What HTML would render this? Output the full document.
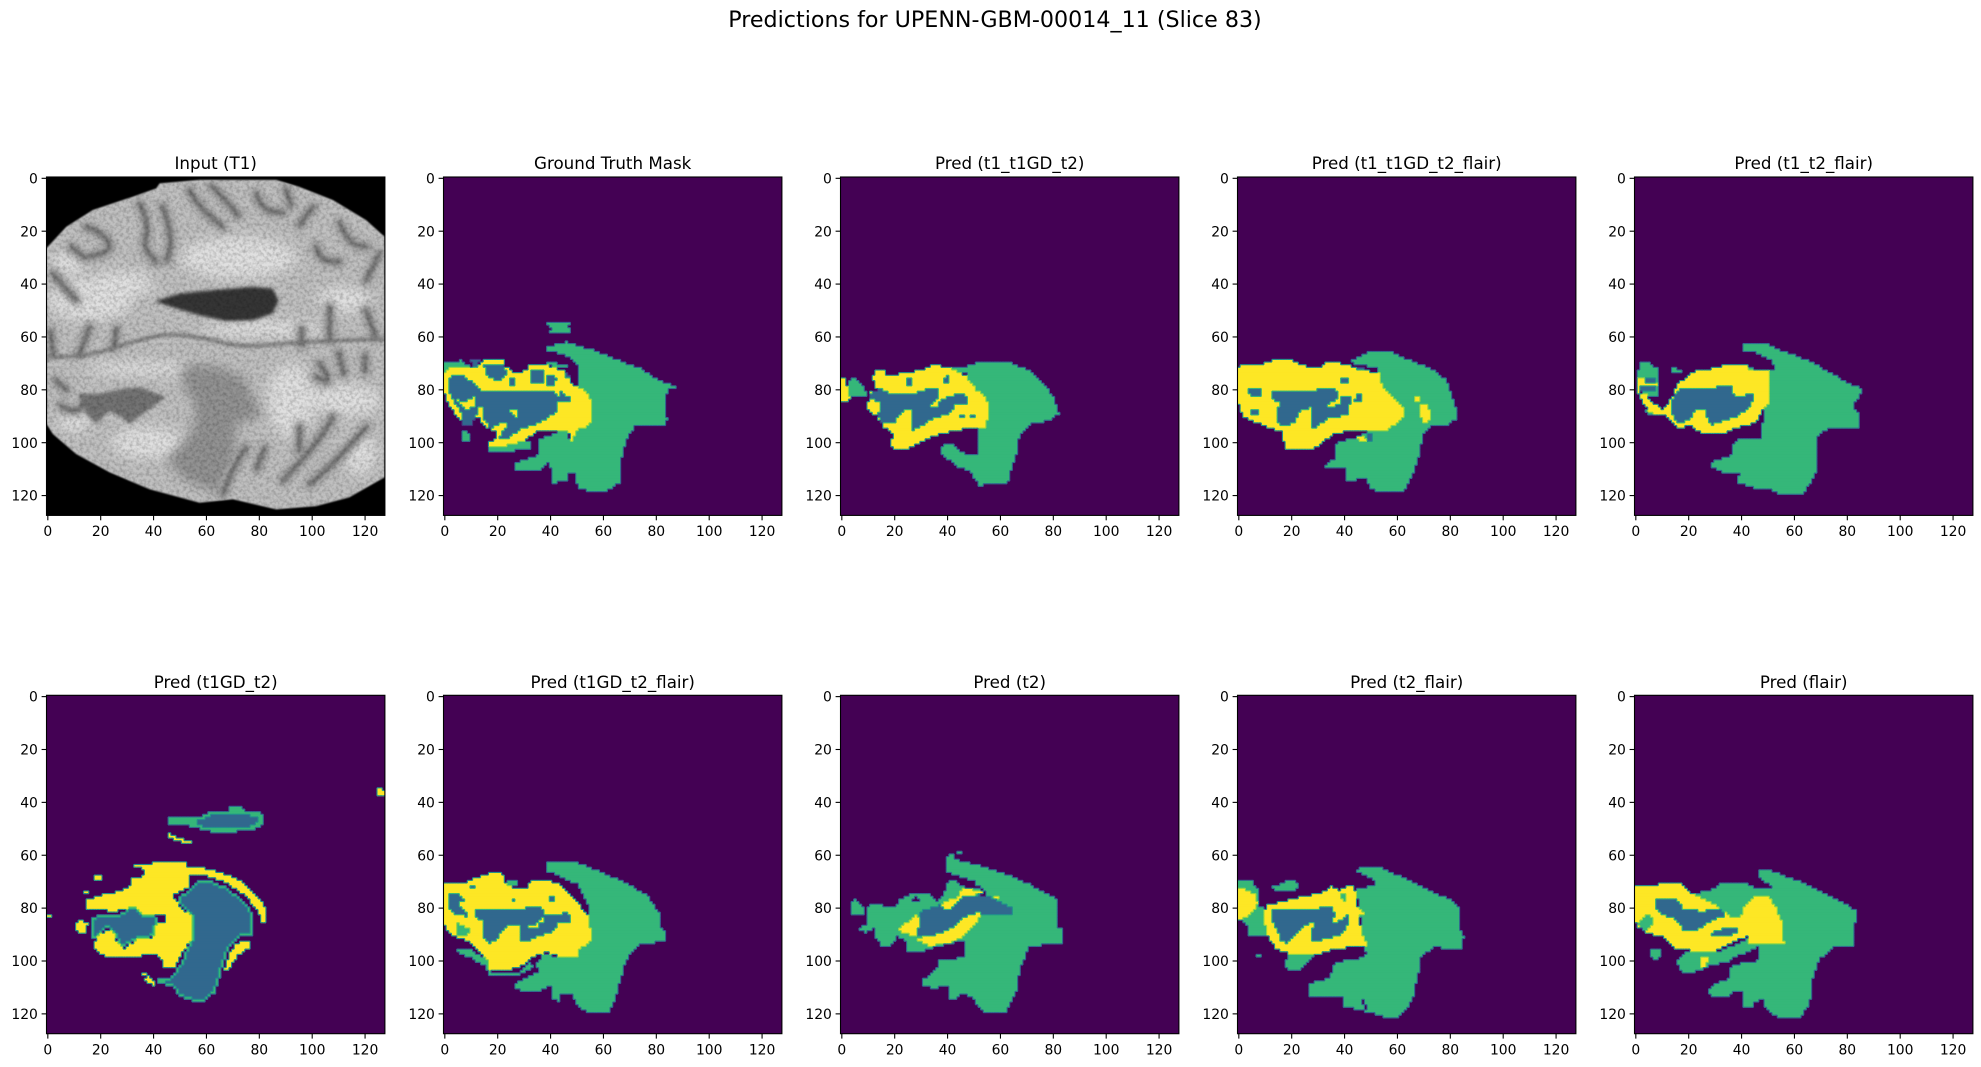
<!DOCTYPE html>
<html lang="en">
<head>
<meta charset="utf-8">
<title>Predictions for UPENN-GBM-00014_11 (Slice 83)</title>
<style>
html,body{margin:0;padding:0;background:#fff;width:1981px;height:1067px;overflow:hidden}
svg{display:block}
text{font-family:"DejaVu Sans","Liberation Sans",sans-serif;fill:#000}
.tick{font-size:13.9px}
.ttl{font-size:16.7px;text-anchor:middle}
</style>
</head>
<body>
<svg id="fig" xmlns="http://www.w3.org/2000/svg" width="1981" height="1067" viewBox="0 0 1981 1067">
<defs>
<filter id="blurS" x="-10%" y="-10%" width="120%" height="120%"><feGaussianBlur stdDeviation="1.7"/></filter>
<filter id="blurM" x="-10%" y="-10%" width="120%" height="120%"><feGaussianBlur stdDeviation="3"/></filter>
<filter id="blurT" x="-20%" y="-20%" width="140%" height="140%"><feGaussianBlur stdDeviation="5.5"/></filter>
<filter id="blurL" x="-30%" y="-30%" width="160%" height="160%"><feGaussianBlur stdDeviation="6"/></filter>
<filter id="blurE" x="-5%" y="-5%" width="110%" height="110%"><feGaussianBlur stdDeviation="0.9"/></filter>
<filter id="grain" x="0" y="0" width="100%" height="100%"><feTurbulence type="fractalNoise" baseFrequency="0.3" numOctaves="2" seed="7"/><feColorMatrix type="matrix" values="0 0 0 0 0  0 0 0 0 0  0 0 0 0 0  0.45 0 0 0 -0.17"/></filter>
</defs>
<rect width="1981" height="1067" fill="#fff"/>
<text x="995" y="27" font-size="22.2" text-anchor="middle">Predictions for UPENN-GBM-00014_11 (Slice 83)</text>
<text class="ttl" x="215.7" y="169">Input (T1)</text>
<text class="ttl" x="612.7" y="169">Ground Truth Mask</text>
<text class="ttl" x="1009.7" y="169">Pred (t1_t1GD_t2)</text>
<text class="ttl" x="1406.7" y="169">Pred (t1_t1GD_t2_flair)</text>
<text class="ttl" x="1803.7" y="169">Pred (t1_t2_flair)</text>
<text class="ttl" x="215.7" y="688">Pred (t1GD_t2)</text>
<text class="ttl" x="612.7" y="688">Pred (t1GD_t2_flair)</text>
<text class="ttl" x="1009.7" y="688">Pred (t2)</text>
<text class="ttl" x="1406.7" y="688">Pred (t2_flair)</text>
<text class="ttl" x="1803.7" y="688">Pred (flair)</text>
</svg>
<script>
// ---- axis data ----
const tickValues = [0, 20, 40, 60, 80, 100, 120];
const voxelCount = 128;

// ---- brain image (voxel coordinates) ----
const brainOutline = [-0.6,26.5,7,18.3,17,12,32,7,41,3.8,42.3,1.9,57.4,0.6,86.4,0.6,95,3.2,107.8,8.2,120.4,15.8,126.7,21.5,127.5,22,127.5,113,114,120.7,101.5,124,86.4,125.2,70,121.4,57.4,122.7,38.5,117.6,23.3,111.2,10.7,104.3,1.9,96.7,-0.5,92.9];
const brainLightBlobs = [[16,46,16,8],[28,40,12,5],[8,32,7,4],[72,30,22,8],[82,57,24,3],[112,46,10,5],[113,84,13,6],[92,84,9,14],[36,72,22,2.5],[38,100,14,6],[10,92,6,4],[118,104,6,8]];
const brainCortex = [
[43.5,10.7,47.3,22,45,31],[34.7,9.5,38.4,17,36,26,41,31.6],[14.5,18.3,21,20.8,24.6,27,15.8,29.7],[9,26,14,30],
[53.6,4.4,56,9.5,66,18.3],[62,3,68,9,72,14],[78.8,5.7,81,12,88.9,13],[90,4,92,10],[100.3,10.7,95.2,17.7],[110.4,17,114,24.7,120.4,25.9],
[101.5,25.9,102.8,31,110.4,31.6],[125.5,28.4,120.4,38.6],[1.9,36,7,42,10.7,46],
[12,66.3,15.8,56.3],[1,58,2,66],[25,64,26,57],[106.6,48.7,106.6,61.3],[120.4,50,124,60],[96,57,96,63],
[102.8,70,107.8,77.7,101.5,75.2],[110,66,112,74],[120,67,120,73],[95.2,94,95.2,103],
[107.8,90.4,102.8,99.2,88.9,114.4],[120.4,94.2,108,108,99,115.7],[75,101.8,70,109.4,66.2,119.5],[82,102,79,110],
[3,76.5,7,80],[5,86,10,89,14,85]
];
const brainMidline = [-0.5,67.6,13.3,67.6,25.9,63.8,38.4,60,47.3,58.8,60,60.6,72.5,63.8,89,62.5,107.8,61.3,127.5,60.7];
const brainTumorCore = [51,70,63.7,71,73.8,75,81.3,90,71,93,71,106,64.9,119.5,52.3,114.4,44.8,106.9,54.9,95.5,56.1,86.6,51,77.8];
const brainLesion = [11.3,81.5,19.5,81.5,29,79.5,35,79,44.8,82.8,41,85.5,30.9,92.9,27.8,90.4,23.3,88,18.3,92.9,14.5,89.1];
const brainVentricle = [40.4,46.5,49.8,43.6,62.4,42.3,77.5,41,85,41.7,87.3,46.2,85,51.2,77.5,53.7,67.5,54,57.4,51.8,48.6,49.2];

// ---- ground truth mask polygons (voxel coordinates) ----
const gtGreen = [
[39,63.7,46,62,56,65,66,69,74,72,81,76.5,85,78,87.6,79,84.5,80,83,85,84,91,83,94,72,93.5,68.7,99,67,105.5,66,115,60,119,56,119,50.5,117,49,111.5,47,111.5,46,114.3,40.5,115.5,40.5,111,39,107.5,36,111,32,110.5,27,110,27,107.5,35,105,35.7,98.5,40.4,97.3,43,95.4,46,96,46.7,99,51,93,51,71,46,67,39,65],
[39,55,47,55,46.4,56.3,49,57.6,44.8,58.8,41.6,58,39,59,41,57],
[-0.4,70,6,69,9.5,71,2.5,72,-0.4,74],
[6.3,95.4,8.2,95.4,10.3,98.6,8.8,100,7,100],
[15.8,100,17,103,24.6,103.3,32,102,32.8,99,26,100,22,101],
[38.5,69.2,46,70.8,46,72,38.5,70.5]
];
const gtYellow = [[0,74,2,71.5,9.5,71.7,12,72,15,69,22,68.6,22.7,70.8,26.5,74,31,72.7,32,70.5,38.5,70.5,44.8,72.7,49,78.4,53,80.3,55.9,84.7,55.9,90.4,54.2,93.5,49.8,95.4,48,99.8,46.7,96,41,96,34.7,96,31,98.6,26.5,100.5,17,102,16.4,99.8,20,98.6,20,95.4,17,94.8,12.6,89.8,7,92.3,3,87.9,0.6,84,-0.4,79]];
const gtBlue = [
[1.3,75.3,6.3,74.3,9.5,76.5,13.9,80.3,22,81,31,81,39.7,80,43.5,82.8,42.2,88.5,34.7,93,28.4,94.8,24,98.6,20.8,99,20,93,17,94.8,13.2,87.9,9.5,94.2,7,93,7,89.8,3.2,84,1.3,80.3],
[15,71,22.7,71,23.3,74.6,20.8,76.5,16.4,75.3],
[24.6,75.5,27,75.3,26.5,79,24,79],
[32.8,72.7,37,72.7,37,77.8,32,77.8],
[38.5,74,42.2,75.3,41.6,78.4,39,78],
[44,81,47.5,82.8,47.5,84.7,43.5,84.7],
[9.5,68.3,13.9,68.3,11.3,72],
[44.8,72,48,75.5,46,75]
];
const gtYellowTop = [
[4.4,83.5,7.5,84.7,11.3,82.8,12,85.3,8.8,87.9,6.9,86],
[12.6,86.6,14.5,86,14.5,90.4,17,94.8,15,93.5,12.6,90.4],
[23.3,88.5,27,87.2,27,91,26,89],
[19,93.5,22.7,92.3,24,94.2,21.4,95.4,21.4,98,20.2,98,19,95.4]
];

// ---- Pred (t1_t1GD_t2) ----
const p3Green = [
[48,70.5,54,69.2,62.8,69.2,72.3,73.4,77.3,78.4,80.4,83.5,82,89,78.6,91.8,72.3,92.3,67.2,97.3,66,104.3,64.7,108,62.8,115,52,116.2,48.3,111,44,109,37,104.3,38.2,101,41.4,100,46.4,104.3,51.4,104.3,52,95.4,48,80,48,72],
[2.3,77,4.8,75.3,9.2,80.3,9.2,83,2.3,83],
[39.5,71.7,48,71.7,48,74,42,72.5]
];
const p3Yellow = [
[0,75.5,1.4,75.5,3,83,1.6,84.7,0,84],
[11.7,75.5,13,72.5,16.2,72.5,17.4,75,23.7,73.4,30,72.7,34.4,70.5,40.7,71.7,47,75,50.8,80,54.6,82.8,55.9,89.8,54,94.2,47,94.8,40.7,96,34.4,97.6,28,100.9,24.3,102.7,20,102.5,18.3,100,19.5,96.8,16.1,94.2,13.6,90.4,9.2,86.6,10.5,83.5,11,81,14,81,12.3,78.4]
];
const p3Blue = [
[11,81.5,14.2,79.4,18.7,81.3,28,81.3,32.5,79.7,36.7,79.7,37,82.8,33.2,86,35.7,86.6,38.2,83.5,43.9,81.5,47,82.2,47,85,43.3,85.3,40.7,89,34.4,91,30.6,93.5,26.2,95.4,26.9,87.6,24.3,87.2,21.8,89.8,19.3,92.9,15.5,92.9,13.6,89.8,14.9,85.3,11,83.5],
[25,76,26.6,76,26.6,78.4,25,78.4],
[39.5,74.2,41,76.3,39.5,78.4,38.2,76.5],
[45,89.4,46,89.4,46,90.4,45,90.4],
[49,89.4,50,89.4,50,90.4,49,90.4]
];

// ---- Pred (t1_t1GD_t2_flair) ----
const p4Green = [[41.2,69.6,46.9,67,50,65.2,57,65.2,64.6,68.8,72.1,71.7,78.4,76,80.3,81.6,82,86.6,82,91,79.7,93.2,73.4,93.2,69.6,96.7,68.4,104.3,65.8,112,62,119,54.5,119,49.4,117,48.2,113.3,45,113.3,44.6,115,40.6,115,40,109.3,35,110,32.4,108.7,36.2,106.2,36.2,101,39.3,99.2,44.4,98.6,49.4,95.4,53,84,53,72]];
const p4Yellow = [
[-0.7,72.7,0.3,70.5,9.7,70.5,10.3,69.2,18.5,68.3,24,70.5,29.2,72,34.3,69.2,41.2,70.5,47,72.7,54,73.4,53.2,77,58.3,82.8,63,87.6,62.7,90.4,58.3,93.5,54.5,96,43,95.4,35.6,96.7,29.9,101.7,24.2,103,17.3,102,16.6,96,9,93.3,1.5,90.4,-0.4,84.7,-0.7,84],
[68,85.3,71.4,85.3,72.8,89.7,71.4,92.3,69.4,92],
[67,83,68.4,83,68.4,84.4,67,84.4],
[44,97.7,47.5,97,49,100.2,45.7,99]
];
const p4Blue = [
[12.2,80.3,14,81,23,81,31.8,79.7,36.2,79.4,38,82.8,42.5,82.2,41.2,89.8,34.3,90.4,28.6,94.8,27,94.8,27.4,86.6,22.3,88.5,21.7,91.6,19.2,93.3,15.1,93.3,14,88.5,15.4,85.3,12.2,82.8],
[3,79.3,7.8,79.3,9,82.2,4.7,82.2],
[5,88,7.2,88,7.2,89.4,5,89.4],
[39,75.3,41.2,75.3,41.2,77.2,39,77.2],
[44.4,81.6,46.3,81.6,47.2,85,43.8,85],
[44.1,71.2,47.2,71.2,47.2,72.5,44.1,72.5],
[48.2,97,50,97,50,99.2,48.2,99.2]
];
const p4YellowTop = [[32.4,86.6,38,83,39,84.3,35.6,86.8]];

// ---- Pred (t1_t2_flair) ----
const p5Green = [
[40,63.3,42.4,62.4,48.7,62.4,56.9,65.8,65.7,69.2,75.8,74.6,80.8,77.8,85.9,79.7,84.6,82.8,82,86,84,89,84,94.2,73.2,94.2,68.9,97.3,68,111,65.7,115.6,63.8,118.8,61.9,120,55,120,51.8,118,46.8,117.8,38.6,115,39.2,111.2,34.2,111.8,30.4,110,28.1,110,28.1,107.4,36,104.9,37.3,99.2,41.7,98.3,48,99,48,93,49,73,53,72.2,50.6,68.3,45.5,65.8,41,65],
[32.9,70.8,41.7,70.5,43,71.7,49,73,30,74],
[1.1,70,5.8,70,9,72.7,8.1,75,8,83,3.9,83,0.8,79],
[1.8,83,4,88,9,89.5,5,90],
[13.1,72.7,14.9,71.2,17.2,73.1,14,73.1]
];
const p5Yellow = [
[0.2,75.5,3.3,75,3.3,77.6,8,77.6,8,78.8,2.5,78.8,1.8,80.5,1.8,81.8,0.2,81.8],
[15.3,78.6,19.7,74.4,22.2,73,30.4,71.7,33.5,70.8,42.4,70.5,43,72.4,50,72.4,50,85,47.4,88.8,45.5,92.5,39.8,93.8,31.6,97,26,97,21,93.8,15.3,94.2,11.5,90,5.2,88.8,2.7,85,1.4,81.6,3.9,81.6,5.8,84.4,10.2,87.2,12.1,85,14,82.5]
];
const p5Blue = [
[14,83.5,16.5,79.7,26.6,79.7,33.5,78.4,36,79,37.3,82.8,43.6,81.6,45.1,81.6,43,86.6,38.6,89.8,29,93.2,27.2,92.3,26.6,87.8,23.5,87.2,20.3,91,15.9,93,14,89],
[3.3,75.2,7,75.2,7,77.5,3.3,77.5],
[2,78.8,7.5,78.8,7.5,81,2,81]
];

// ---- Pred (t1GD_t2) ----
const p6Green = [[46,45.3,51,45.6,58.6,45,61.2,43.2,68,43.2,68.7,42,73.2,42,74.4,43.2,80,43.4,82,45.6,81.4,48.2,77.6,50.5,66.8,51.4,64.3,51.8,59.3,50.4,55.5,49.5,51,48.2,46,48.2]];
const p6Yellow = [
[32.2,63.5,36.6,64,39.1,63,52.3,63,53,64.2,57.4,64.7,61.8,65.3,68.7,67.6,73.8,70.4,80.1,76.7,82.9,80.5,82,85.8,80.1,85.8,80.1,82.5,75,75.5,67.5,70.4,58.6,67.3,53,67.3,53,72.3,47.3,74.9,49.8,79.3,54.2,83,54.2,92,49.8,98.3,47.9,102.8,43.5,102.8,42.9,98.3,38.5,97,32.8,98.9,22.1,98.9,17,94.5,18.9,90.8,22.1,88.2,24.6,88.9,26.5,93.3,29,95.2,34,92,40.4,90.8,41,85.7,44.8,85,44.8,82.5,35.9,82.5,33.4,80,30.3,80,25.9,81.2,14.5,80.6,13.9,77.4,18.3,75.5,24.6,74.2,30.9,72.3,31.5,68.5,36.6,67.9,35.9,64.8,32.2,64],
[46,52,48,53,52.4,54.2,54.9,54.2,54.9,55.2,51,55,47.3,54,46,53],
[125,34.6,127.5,35.6,127.5,37,125,38],
[71.2,93.3,76.9,92.3,76.3,95.2,71.9,97.7,68.1,104,66.8,103.3,68.7,97],
[10.1,86.3,12,84.2,15.1,85.7,14.5,89.2,11.3,89.2,10.1,87.6],
[17,68.6,18.9,67.3,21.1,68.6,19.5,70,17.7,69.2],
[36.6,106.6,38.5,105.4,40,107.3,40,109.2,37.2,108],
[36,104.5,37,104.5,37,105.4,36,105.4],
[-0.3,83,1.2,83,1.2,84,-0.3,84],
[14,74,15.2,74,15.2,75,14,75]
];
const p6Blue = [
[51,47,58.6,45.7,61.8,44,72.5,43.2,78.8,44.4,80.7,46.3,77.6,49.9,65,50.8,58.6,50,54.8,48.2],
[16.4,83.1,27.1,82.5,30.9,80,33.4,80,35.9,82.5,41.6,83.1,40.4,90.8,34,91.4,29,94.5,26.5,93.3,24.6,88.2,22.1,87.6,17,92,16.4,90.8],
[49.8,76,56.9,69.8,60.7,69.2,68.2,72.4,73.8,77.4,77.6,81.8,77.8,91,72.5,91,68.7,94.5,65.6,104,64.3,108.4,63,112.2,58.6,115.5,53.6,114.9,49.2,113,47.3,109.8,41.6,107.9,41.6,106,46,106.6,50.4,101,52.3,95.8,54.2,92,54.2,83,49.8,78.7]
];

// ---- Pred (t1GD_t2_flair) ----
const p7Green = [
[38,63.2,40.2,62.3,49,62.3,58.5,66,68.6,70.5,76.2,74.9,81.8,82.5,81.2,87.2,83.1,88.8,83.1,92.7,73.6,93.5,68.6,99.6,66.1,108.5,64.8,113.6,62.3,119.2,53.5,119.2,49.7,116.7,48.4,112.5,44,112.5,43.4,115.2,40.9,114.8,40.2,109.1,34.6,112,27,110.7,26.4,108.5,35.8,104,34.6,101.1,37.7,97,44,99,49.7,98.3,54.7,79.4,50.3,71.1,44.6,68.6,39,66.1],
[23.5,70,27.2,70,27.2,72,23.5,72],
[4.9,95.8,8.7,95.2,16.3,99.6,17,104,28.2,104.7,32,101,34.6,101.1,33.3,102.8,28.2,105.3,17,105.3,15.6,102.2,9.3,98.4,5.3,97.7]
];
const p7Yellow = [[-0.5,70.5,8.1,70.3,12.5,68.2,16.9,67,21.7,67,23.5,71.8,30.8,72.4,32.7,69.5,39,69.5,44,71.1,49.7,76.8,54.7,83.8,55.4,92,51,95.8,49.7,99,44.6,99,38.9,96.8,34.6,97.7,29.5,101.5,24.5,103.2,16.3,103.4,16.3,99.6,9.3,92.7,2.4,90.2,-0.5,86.3]];
const p7GreenTop = [[4.3,85.1,10,88.2,7.4,90.8,4.3,90.1]];
const p7Blue = [
[2,75,4.9,74,7.4,76.8,4.9,78.1,8.1,81.3,8.1,83.2,4.3,82.5,2,80],
[11.2,80.6,25.1,80.4,28.9,80.6,33.3,79.1,36.4,80,37.7,82,44,82.2,45.3,81,47.2,82.5,47.2,85.3,42.8,85.3,41.5,88.8,34.6,90.8,31.4,93,28.2,93,28.2,86.3,22.6,87.2,20,91.4,16.9,93.3,14.4,90.8,15,85.7,11.2,82.5],
[39.6,75.3,41.2,75.3,41.2,77.2,39.6,77.2],
[25.1,76.2,26.3,76.2,26.3,77.4,25.1,77.4],
[10,71.1,11.3,71.1,11.3,72.3,10,72.3]
];
const p7YellowTop = [[35.2,84.4,38.1,83.4,37.7,85,35.8,85.2],[32,87,35.2,85.5,35.2,87.2]];

// ---- Pred (t2) ----
const p8Green = [
[39.2,61.6,40.5,59.4,42,59.4,42.6,61.6,50.8,63.5,60.9,66.6,71,71,81,76.5,81.3,87.2,83,87.2,83,93.2,71,94.4,67.2,103.3,66.6,110.3,62.2,119.2,53.3,119.2,48.9,113.3,45.1,112.3,43.2,114.6,40.1,114,40.1,109.6,34.4,110.2,31,109.6,31,107,36.3,102.6,36.3,99.4,47,98.8,47,91.8,51.4,81.7,55.2,74.3,50.8,71.1,50.8,69.9,46.4,68.6,40.1,66.7],
[43,58.9,45.8,58.1,45.8,59.1,44.5,60.1],
[9.8,80.1,11.1,78.6,20.6,79.4,21.8,77,26.2,74.9,33.2,74.9,35.7,77.7,38.8,74.5,40.1,70,43.2,70,47,72.2,52,72.8,53.3,81.7,47,91.8,39.5,93.7,30,96.3,24.9,97,24.9,93,21.2,90.7,18,94.3,14.9,94.3,13,91.4,13,87.6,8.6,89.2,6.1,87.6,9.8,85.7],
[2.9,80.6,4.4,76.2,8,79.3,8,82.2,3.5,82.2]
];
const p8Yellow = [
[37,78.7,44,75.6,45.8,72.4,54.6,73.7,50.8,75,46.4,76.2,43.9,78.7,40.1,80.9,38.2,80.4],
[21.2,88.5,25,85.1,28.5,82.2,30,85.7,28.1,90.1,26.9,91.4,33.2,90.7,40.7,88.2,45.8,83.8,51.4,81.3,53.1,82.5,49,87.9,43.2,92.6,33.2,94.5,25.6,90.1],
[57.8,75.2,59.2,75.2,59.2,76.4,57.8,76.4]
];
const p8Blue = [[29.4,81.3,36.9,78.7,38.8,80.6,40.7,80.6,45.8,75.6,52,74.9,57.1,76.2,64.7,80,64.9,82.2,53.3,82.2,50.8,81.7,45.8,83.8,40.7,88.2,33.2,90.7,28.4,90.1,29.4,85.7]];
const p8Hole = [[26.2,77.1,28.4,75.2,30,77.7]];

// ---- Pred (t2_flair) ----
const p9Green = [
[44.1,65.8,46.3,64.2,52.6,64.2,63.3,69,73.4,74.1,81,77.2,83.5,80.4,83.5,87.3,85.1,91.1,84.1,95.3,73.4,94.9,69,98.7,67.7,105.7,65.8,114.5,63.3,118.3,60.8,121.2,55.1,121.2,50.7,119.8,48.8,119.3,47.5,114.5,46.3,114.5,48.2,119.3,40,117,39.4,113.9,33.7,113.9,29.9,113,26.7,113.9,26.1,108.8,34.3,106.3,36.2,100.6,47.5,98.7,48.2,97.5,47,93,45.7,80.4,44.4,72.4,51.3,71.8,52,70.3,47.5,67.3],
[0,70,5,70,7.2,72.4,7.2,78.7,9.1,80,11,90.8,4,90.1,2.8,85.7,-0.5,84],
[12.9,71.8,18,69.9,21.1,69.2,23,71.1,21.1,73,15.4,74,12.9,72.8],
[17.3,100.9,19.2,97,29.3,97,26.7,99.6,22.3,104,19.2,104],
[7,97.1,8.2,97.1,8.2,98.4,7,98.4]
];
const p9Yellow = [
[-0.7,72.4,0,72.2,2.1,72.4,2.1,73.7,6.6,74.3,7.2,78.7,3.4,83.8,-0.7,84.2],
[11,79,12.9,78.4,21.7,76.2,29.9,74.6,35,72,38.1,73.3,40.6,72,43.8,72,45,79.7,48,82.5,45.7,83,46.3,89.1,48.8,94.1,36.8,95.4,30.5,97.3,19.8,97.3,14.1,95.6,11,90.3,9.1,82.2]
];
const p9GreenTop = [[38.7,74.3,40.2,74.9,40,77.5,38.1,76.2]];
const p9Blue = [[12.2,80.7,21.7,80.6,26.7,80.6,35.6,79.1,36.2,82.5,35,86.3,41.9,82.5,41.9,85.7,38.7,90.1,34.3,91.4,28,92.6,27.4,90.1,28.6,85.7,24.8,86.3,17.9,93.2,15.4,91.9,14.8,88.2,12.2,84.6]];

// ---- Pred (flair) ----
const p10Green = [
[46.2,66.5,48.3,64.9,53.1,66.5,64.4,70.9,74.5,76,80.8,79.1,83.1,81,83.1,85.4,82.1,89.9,83.1,95,74.5,95,69.5,99.4,67,106.4,65.7,116.5,61.9,122,58.1,122,53.1,121,49.3,117.8,48,114.6,44.9,115.3,43.6,117.8,40.2,117.8,40.2,111.5,37.3,111.5,34.2,113.9,27.9,112.9,27.2,111.5,29.1,108.9,34.8,106.9,36.1,101.6,46.8,99.7,47,96,46.5,93,55,90,53.1,83.9,50,77.6,50.6,74,51.8,72.2,46.2,68],
[20.9,74.3,27.9,73.7,33,70.3,41.7,70.3,45.5,72.4,50.6,72,54.4,80,43,83.8,36.7,83.8],
[15.3,100.6,19,97,31.7,96.4,43,91.4,46.8,94.5,36.7,99,35.4,99.9,29.1,101.6,22.2,104.1,17.8,104.1,15.9,101.5],
[6,96,9.2,96,9,98.8,7.4,100,6,98]
];
const p10Yellow = [
[-0.6,72,9,71,16.5,70.4,20.9,74.3,27.9,77.4,33,81.2,36.1,83.1,39.9,83.1,40.5,80,45.7,75.3,50,75.3,53.1,80,55,84.4,56,93,43,93.3,42.4,90.5,35.4,93.3,29.8,96.4,15.9,95.8,10.2,90.8,4.5,89.5,1.4,87.6,-0.6,85],
[24.7,98.4,27.9,98.4,26,102.2,24.1,102.2]
];
const p10GreenTop = [[0.1,85.7,4.9,82.1,7,85.7,3.9,88.9]];
const p10Blue = [
[7,76.8,8.9,76.2,15.3,76.6,17.8,80,24.1,81.2,31.7,80.6,34.2,82.5,27.2,85.7,22.8,88.8,18.4,88.8,15.3,84.4,9.6,82.5,7.7,80.6],
[28.1,89.5,31.7,88.5,35.4,87,39,87.6,38.6,89.2,34.2,90.8,28.1,91]
];

// ---- colour map ----
const classColors = ['#440154', '#31688e', '#35b779', '#fde725'];
const edgeColors = ['', '#46327e', '#31688e', '#21918c', '#35b779', '#90d743'];

// ---- layout & axis functions ----
const svg = document.getElementById('fig');
const NS = 'http://www.w3.org/2000/svg';
const axSize = 338.4;
const pxPerVoxel = axSize / voxelCount;
function axLeft(col) { return 46.5 + col * 397; }
function axTop(row) { return row === 0 ? 177 : 695.3; }
function xScale(col, v) { return axLeft(col) + (v + 0.5) * pxPerVoxel; }
function yScale(row, v) { return axTop(row) + (v + 0.5) * pxPerVoxel; }
function mk(tag, parent) { const el = document.createElementNS(NS, tag); parent.appendChild(el); return el; }
function attrs(el, o) { for (const k in o) el.setAttribute(k, o[k]); return el; }
function pts(col, row, flat) {
  const out = [];
  for (let i = 0; i < flat.length; i += 2) out.push(xScale(col, flat[i]).toFixed(2) + ',' + yScale(row, flat[i + 1]).toFixed(2));
  return out.join(' ');
}
function smoothPath(col, row, flat) {
  const X = function (i) { return xScale(col, flat[2 * i]).toFixed(2); };
  const Y = function (i) { return yScale(row, flat[2 * i + 1]).toFixed(2); };
  const n = flat.length / 2;
  let d = 'M' + X(0) + ' ' + Y(0);
  for (let i = 1; i < n - 1; i++) {
    const mx = (xScale(col, flat[2 * i]) + xScale(col, flat[2 * i + 2])) / 2;
    const my = (yScale(row, flat[2 * i + 1]) + yScale(row, flat[2 * i + 3])) / 2;
    d += ' Q' + X(i) + ' ' + Y(i) + ' ' + mx.toFixed(2) + ' ' + my.toFixed(2);
  }
  d += ' L' + X(n - 1) + ' ' + Y(n - 1);
  return d;
}

function drawAxes(col, row, key) {
  const g = mk('g', svg);
  
  
  const L = axLeft(col), T = axTop(row), B = T + axSize;
  const frame = mk('rect', g);
  
  
  attrs(frame, {x: L, y: T, width: axSize, height: axSize, fill: 'none', stroke: '#000', 'stroke-width': 1.1});
  tickValues.forEach(function (t) {
    const x = xScale(col, t), y = yScale(row, t);
    const xt = mk('line', g);
    
    
    attrs(xt, {x1: x, x2: x, y1: B, y2: B + 4.9, stroke: '#000', 'stroke-width': 1.1});
    const xl = mk('text', g);
    
    
    attrs(xl, {x: x, y: B + 20.6, 'text-anchor': 'middle', class: 'tick'});
    xl.textContent = t;
    const yt = mk('line', g);
    
    
    attrs(yt, {x1: L, x2: L - 4.9, y1: y, y2: y, stroke: '#000', 'stroke-width': 1.1});
    const yl = mk('text', g);
    
    
    attrs(yl, {x: L - 8.6, y: y + 5.1, 'text-anchor': 'end', class: 'tick'});
    yl.textContent = t;
  });
}

function fillPoly(grid, flat, cls) {
  const n = flat.length / 2;
  for (let j = 0; j < voxelCount; j++) {
    const xs = [];
    for (let i = 0; i < n; i++) {
      const k = (i + 1) % n;
      const x1 = flat[2 * i], y1 = flat[2 * i + 1], x2 = flat[2 * k], y2 = flat[2 * k + 1];
      if ((y1 <= j && y2 > j) || (y2 <= j && y1 > j)) xs.push(x1 + (j - y1) / (y2 - y1) * (x2 - x1));
    }
    xs.sort(function (a, b) { return a - b; });
    for (let m = 0; m + 1 < xs.length; m += 2) {
      const a = Math.max(0, Math.ceil(xs[m])), b = Math.min(voxelCount - 1, Math.floor(xs[m + 1]));
      for (let i = a; i <= b; i++) grid[j * voxelCount + i] = cls;
    }
  }
}

function drawMask(col, row, key, layers, rimBlue) {
  const grid = new Int8Array(voxelCount * voxelCount);
  layers.forEach(function (layer) {
    layer[0].forEach(function (poly) { fillPoly(grid, poly, layer[1]); });
  });
  if (rimBlue) {
    const copy = grid.slice();
    for (let j = 1; j < voxelCount - 1; j++) for (let i = 1; i < voxelCount - 1; i++) {
      const p = j * voxelCount + i;
      if (copy[p] === 1 && (copy[p - 1] !== 1 || copy[p + 1] !== 1 || copy[p - voxelCount] !== 1 || copy[p + voxelCount] !== 1)) grid[p] = 2;
    }
  }
  const g = mk('g', svg);
  
  
  const bg = mk('rect', g);
  
  
  attrs(bg, {x: axLeft(col), y: axTop(row), width: axSize, height: axSize, fill: classColors[0]});
  for (let j = 0; j < voxelCount; j++) {
    let i = 0;
    while (i < voxelCount) {
      const c = grid[j * voxelCount + i];
      let e = i;
      while (e + 1 < voxelCount && grid[j * voxelCount + e + 1] === c) e++;
      if (c > 0) {
        const r = mk('rect', g);
        
        
        attrs(r, {x: xScale(col, i - 0.5).toFixed(2), y: yScale(row, j - 0.5).toFixed(2), width: ((e - i + 1) * pxPerVoxel).toFixed(2), height: (pxPerVoxel + 0.5).toFixed(2), fill: classColors[c]});
      }
      i = e + 1;
    }
  }
  const th = 1.15;
  for (let j = 0; j < voxelCount; j++) for (let i = 0; i < voxelCount; i++) {
    const c = grid[j * voxelCount + i];
    if (i + 1 < voxelCount) {
      const d = grid[j * voxelCount + i + 1];
      if (d !== c) {
        const r = mk('rect', g);
        
        
        attrs(r, {x: (xScale(col, i + 0.5) - th / 2).toFixed(2), y: yScale(row, j - 0.5).toFixed(2), width: th, height: pxPerVoxel.toFixed(2), fill: edgeColors[c + d]});
      }
    }
    if (j + 1 < voxelCount) {
      const d = grid[(j + 1) * voxelCount + i];
      if (d !== c) {
        const r = mk('rect', g);
        
        
        attrs(r, {x: xScale(col, i - 0.5).toFixed(2), y: (yScale(row, j + 0.5) - th / 2).toFixed(2), width: pxPerVoxel.toFixed(2), height: th, fill: edgeColors[c + d]});
      }
    }
  }
}

function drawBrain(col, row) {
  const g = mk('g', svg);
  
  
  const cp = mk('clipPath', g);
  cp.setAttribute('id', 'brainClip');
  const cr = mk('rect', cp);
  attrs(cr, {x: axLeft(col), y: axTop(row), width: axSize, height: axSize});
  const cp2 = mk('clipPath', g);
  cp2.setAttribute('id', 'brainShape');
  const cr2 = mk('polygon', cp2);
  attrs(cr2, {points: pts(col, row, brainOutline)});
  g.setAttribute('clip-path', 'url(#brainClip)');
  const bg = mk('rect', g);
  
  
  attrs(bg, {x: axLeft(col), y: axTop(row), width: axSize, height: axSize, fill: '#000'});
  const outline = mk('polygon', g);
  
  
  attrs(outline, {points: pts(col, row, brainOutline), fill: '#c0c0c0', filter: 'url(#blurE)'});
  const inner = mk('g', g);
  
  
  inner.setAttribute('clip-path', 'url(#brainShape)');
  const lights = mk('g', inner);
  
  
  lights.setAttribute('filter', 'url(#blurL)');
  brainLightBlobs.forEach(function (b) {
    const e = mk('ellipse', lights);
    
    
    attrs(e, {cx: xScale(col, b[0]), cy: yScale(row, b[1]), rx: b[2] * pxPerVoxel, ry: b[3] * pxPerVoxel, fill: '#e0e0e0'});
  });
  const tumor = mk('polygon', inner);
  
  
  attrs(tumor, {points: pts(col, row, brainTumorCore), fill: '#929292', filter: 'url(#blurT)'});
  const cortex = mk('g', inner);
  
  
  cortex.setAttribute('filter', 'url(#blurM)');
  brainCortex.forEach(function (s) {
    const p = mk('path', cortex);
    
    
    attrs(p, {d: smoothPath(col, row, s), fill: 'none', stroke: '#a2a2a2', 'stroke-width': 13, 'stroke-linecap': 'round', 'stroke-linejoin': 'round'});
  });
  const sul = mk('g', inner);
  
  
  sul.setAttribute('filter', 'url(#blurS)');
  brainCortex.forEach(function (s) {
    const p = mk('path', sul);
    
    
    attrs(p, {d: smoothPath(col, row, s), fill: 'none', stroke: '#6f6f6f', 'stroke-width': 4.2, 'stroke-linecap': 'round', 'stroke-linejoin': 'round'});
  });
  const mid = mk('path', sul);
  
  
  attrs(mid, {d: smoothPath(col, row, brainMidline), fill: 'none', stroke: '#777777', 'stroke-width': 3.5});
  const les = mk('polygon', sul);
  
  
  attrs(les, {points: pts(col, row, brainLesion), fill: '#737373'});
  const ven = mk('polygon', sul);
  
  
  attrs(ven, {points: pts(col, row, brainVentricle), fill: '#353535'});
  const grain = mk('rect', inner);
  
  
  attrs(grain, {x: axLeft(col), y: axTop(row), width: axSize, height: axSize, fill: '#000', filter: 'url(#grain)'});
}

drawBrain(0, 0);
drawAxes(0, 0, 'input-t1');
drawMask(1, 0, 'ground-truth', [[gtGreen, 2], [gtYellow, 3], [gtBlue, 1], [gtYellowTop, 3]], false);
drawAxes(1, 0, 'ground-truth');
drawMask(2, 0, 'pred-t1-t1gd-t2', [[p3Green, 2], [p3Yellow, 3], [p3Blue, 1]], false);
drawAxes(2, 0, 'pred-t1-t1gd-t2');
drawMask(3, 0, 'pred-t1-t1gd-t2-flair', [[p4Green, 2], [p4Yellow, 3], [p4Blue, 1], [p4YellowTop, 3]], false);
drawAxes(3, 0, 'pred-t1-t1gd-t2-flair');
drawMask(4, 0, 'pred-t1-t2-flair', [[p5Green, 2], [p5Yellow, 3], [p5Blue, 1]], false);
drawAxes(4, 0, 'pred-t1-t2-flair');
drawMask(0, 1, 'pred-t1gd-t2', [[p6Green, 2], [p6Yellow, 3], [p6Blue, 1]], true);
drawAxes(0, 1, 'pred-t1gd-t2');
drawMask(1, 1, 'pred-t1gd-t2-flair', [[p7Green, 2], [p7Yellow, 3], [p7GreenTop, 2], [p7Blue, 1], [p7YellowTop, 3]], false);
drawAxes(1, 1, 'pred-t1gd-t2-flair');
drawMask(2, 1, 'pred-t2', [[p8Green, 2], [p8Hole, 0], [p8Yellow, 3], [p8Blue, 1]], false);
drawAxes(2, 1, 'pred-t2');
drawMask(3, 1, 'pred-t2-flair', [[p9Green, 2], [p9Yellow, 3], [p9GreenTop, 2], [p9Blue, 1]], false);
drawAxes(3, 1, 'pred-t2-flair');
drawMask(4, 1, 'pred-flair', [[p10Green, 2], [p10Yellow, 3], [p10GreenTop, 2], [p10Blue, 1]], false);
drawAxes(4, 1, 'pred-flair');
</script>
</body>
</html>
